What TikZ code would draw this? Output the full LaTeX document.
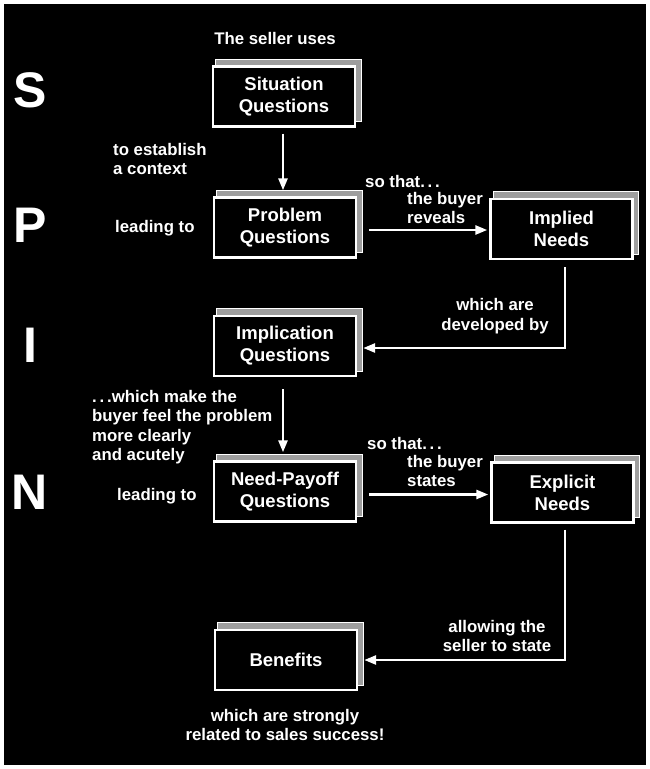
\documentclass[tikz,border=0pt]{standalone}
\usepackage{fontspec}
\setmainfont{Liberation Sans}
\usetikzlibrary{arrows.meta,patterns,backgrounds}
\begin{document}
\begin{tikzpicture}[x=1pt,y=-1pt,
  box/.style={draw=white,fill=black,line width=2.4pt,minimum width=142pt,minimum height=60pt,
    inner sep=0pt,align=center,text=white,font=\fontsize{18.5}{22}\selectfont\bfseries},
  lbl/.style={text=white,inner sep=0pt,font=\fontsize{16.8}{19.5}\selectfont\bfseries},
  big/.style={text=white,inner sep=0pt,font=\fontsize{50}{50}\selectfont\bfseries},
  sheet/.style={draw=white,line width=0.8pt,fill=white!62!black},
  conn/.style={draw=white,line width=2.6pt,-{Triangle[length=12pt,width=9pt]}}]
\useasboundingbox (0,0) rectangle (650,769);
% nodes
\node[box] (sit)  at (284,96.5)  {Situation\\Questions};
\node[box] (prob) at (285,227.5) {Problem\\Questions};
\node[box] (impd) at (561.5,229) {Implied\\Needs};
\node[box] (impl) at (285,346)   {Implication\\Questions};
\node[box] (need) at (285,491.5) {Need-Payoff\\Questions};
\node[box] (expl) at (562.5,492.5) {Explicit\\Needs};
\node[box] (ben)  at (286,660)   {Benefits};
% background and back sheets
\begin{pgfonlayer}{background}
\fill[white] (0,0) rectangle (650,769);
\fill[black] (4,4) rectangle (646,765);
\foreach \n in {sit,prob,impd,impl,need,expl,ben}{
  \path[sheet] ([shift={(4pt,6pt)}]\n.south west) rectangle ([shift={(5pt,6pt)}]\n.north east);
}
\end{pgfonlayer}
% big letters
\node[big] (S) at (30,90) {S};
\node[big] (P) at (30,225) {P};
\node[big] (I) at (30,345) {I};
\node[big] (N) at (30,492) {N};
% labels
\node[lbl] (uses) at (275,38) {The seller uses};
\node[lbl,anchor=west,align=left] (ctx) at (113,159) {to establish\\a context};
\node[lbl,anchor=west] (lead1) at (115,228) {leading to};
\node[lbl,anchor=west] (so1) at (365,181) {so that.\,.\,.};
\node[lbl,anchor=west,align=left] (rev) at (407,208) {the buyer\\reveals};
\node[lbl,align=center] (dev) at (495,316) {which are\\developed by};
\node[lbl,anchor=west,align=left] (feel) at (92,427) {.\,.\,.which make the\\buyer feel the problem\\more clearly\\and acutely};
\node[lbl,anchor=west] (lead2) at (117,496) {leading to};
\node[lbl,anchor=west] (so2) at (367,443) {so that.\,.\,.};
\node[lbl,anchor=west,align=left] (sta) at (407,471) {the buyer\\states};
\node[lbl,align=center] (allow) at (497,636) {allowing the\\seller to state};
\node[lbl,align=center] (succ) at (285,725) {which are strongly\\related to sales success!};
% connectors
\draw[conn,shorten <=6pt,shorten >=6pt] ([xshift=-1pt]sit.south) -- ([xshift=-1pt]sit.south |- prob.north);
\draw[conn,shorten <=12pt,shorten >=2pt] ([yshift=-2.5pt]prob.east) -- ([yshift=-2.5pt]impd.west |- prob.east);
\draw[conn,shorten <=7pt,shorten >=6pt] ([xshift=3.5pt]impd.south) |- ([yshift=-2pt]impl.east);
\draw[conn,shorten <=12pt,shorten >=8pt] ([xshift=-2pt]impl.south) -- ([xshift=-2pt]impl.south |- need.north);
\draw[conn,shorten <=12pt,shorten >=2pt] ([yshift=-3pt]need.east) -- ([yshift=-3pt]expl.west |- need.east);
\draw[conn,shorten <=6pt,shorten >=6pt] ([xshift=2.5pt]expl.south) |- (ben.east);
\end{tikzpicture}
\end{document}
